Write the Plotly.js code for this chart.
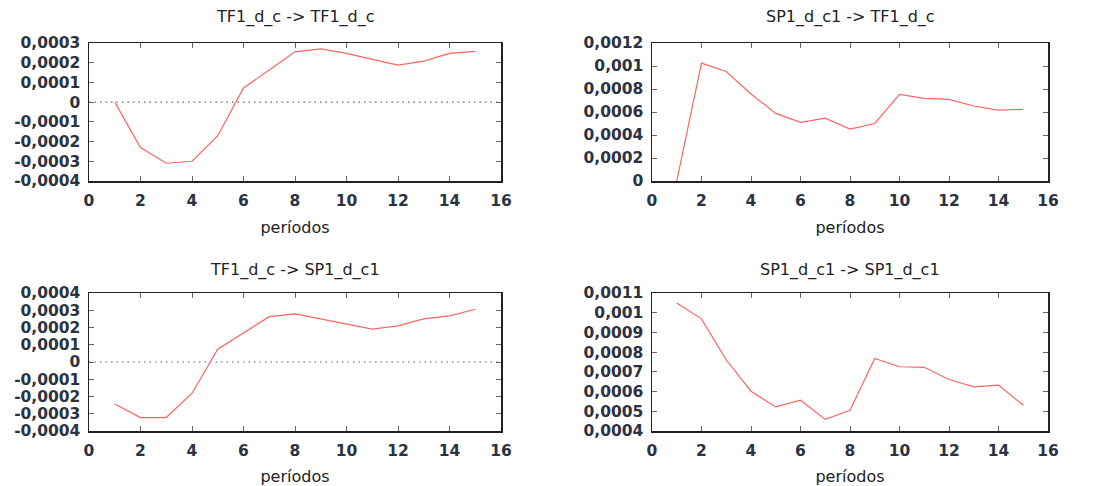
<!DOCTYPE html>
<html>
<head>
<meta charset="utf-8">
<script src="https://cdn.plot.ly/plotly-3.0.1.min.js"></script>
<style>html,body{margin:0;padding:0;background:#fff;}#chart{width:1103px;height:486px;}</style>
</head>
<body>
<div id="chart"></div>
<script>
// Periods
const periods = [1,2,3,4,5,6,7,8,9,10,11,12,13,14,15];

// Impulse responses
const tf_to_tf = [0, -0.00023, -0.00031, -0.00030, -0.00017, 0.000072, 0.000163, 0.000255, 0.00027, 0.000247, 0.000217, 0.000188, 0.000208, 0.000247, 0.000258];
const sp_to_tf = [0, 0.001025, 0.000952, 0.000757, 0.000588, 0.00051, 0.000547, 0.000451, 0.0005, 0.000754, 0.000719, 0.00071, 0.000652, 0.000617, 0.000623];
const tf_to_sp = [-0.000244, -0.000322, -0.000322, -0.000181, 0.000074, 0.000166, 0.000263, 0.000279, 0.00025, 0.000224, 0.000191, 0.000209, 0.00025, 0.000267, 0.000306];
const sp_to_sp = [0.001049, 0.000969, 0.00076, 0.000602, 0.000522, 0.000556, 0.000459, 0.000505, 0.000768, 0.000726, 0.000723, 0.000661, 0.000624, 0.000633, 0.000531];

const panelTitles = ["TF1_d_c -> TF1_d_c", "SP1_d_c1 -> TF1_d_c", "TF1_d_c -> SP1_d_c1", "SP1_d_c1 -> SP1_d_c1"];
const xTitle = "períodos";

// Tick labels
const xTickVals = [0,2,4,6,8,10,12,14,16];
const xTickText = ["0","2","4","6","8","10","12","14","16"];
const y1TickVals = [-0.0004,-0.0003,-0.0002,-0.0001,0,0.0001,0.0002,0.0003];
const y1TickText = ["-0,0004","-0,0003","-0,0002","-0,0001","0","0,0001","0,0002","0,0003"];
const y2TickVals = [0,0.0002,0.0004,0.0006,0.0008,0.001,0.0012];
const y2TickText = ["0","0,0002","0,0004","0,0006","0,0008","0,001","0,0012"];
const y3TickVals = [-0.0004,-0.0003,-0.0002,-0.0001,0,0.0001,0.0002,0.0003,0.0004];
const y3TickText = ["-0,0004","-0,0003","-0,0002","-0,0001","0","0,0001","0,0002","0,0003","0,0004"];
const y4TickVals = [0.0004,0.0005,0.0006,0.0007,0.0008,0.0009,0.001,0.0011];
const y4TickText = ["0,0004","0,0005","0,0006","0,0007","0,0008","0,0009","0,001","0,0011"];

const W = 1103, H = 486;
const lineColor = "#ff6464";
const tickFont = {family: "DejaVu Sans", size: 15.5, color: "#2b3242", weight: "bold"};
const titleFont = {family: "DejaVu Sans", size: 16, color: "#222"};

function px(x){ return x / W; }
function py(y){ return 1 - y / H; }

const series = [tf_to_tf, sp_to_tf, tf_to_sp, sp_to_sp];
const traces = series.map((s, i) => ({
  x: periods, y: s, type: "scatter", mode: "lines",
  line: {color: lineColor, width: 1.2},
  xaxis: i === 0 ? "x" : "x" + (i + 1),
  yaxis: i === 0 ? "y" : "y" + (i + 1),
  showlegend: false, hoverinfo: "x+y"
}));

const colX = [[px(89), px(501)], [px(652), px(1048)]];
const rowY = [[py(181), py(43)], [py(431), py(293)]];

function xa(dom, anchor){
  return {
    domain: dom, anchor: anchor, range: [0, 16],
    tickvals: xTickVals, ticktext: xTickText,
    ticks: "inside", ticklen: 5, tickcolor: "#666", tickwidth: 1,
    showline: true, linecolor: "#222", linewidth: 1.5, mirror: "allticks",
    showgrid: false, zeroline: false, tickfont: tickFont,
    ticklabelstandoff: 5,
    title: {text: xTitle, font: titleFont, standoff: 12}
  };
}
function ya(dom, anchor, range, tv, tt){
  return {
    domain: dom, anchor: anchor, range: range,
    tickvals: tv, ticktext: tt,
    ticks: "inside", ticklen: 5, tickcolor: "#666", tickwidth: 1,
    showline: true, linecolor: "#222", linewidth: 1.5, mirror: "allticks",
    showgrid: false, zeroline: false, tickfont: tickFont,
    ticklabelstandoff: 4
  };
}

const layout = {
  width: W, height: H,
  margin: {l: 0, r: 0, t: 0, b: 0},
  paper_bgcolor: "#fff", plot_bgcolor: "#fff",
  showlegend: false,
  xaxis:  xa(colX[0], "y"),
  yaxis:  ya(rowY[0], "x",  [-0.0004, 0.0003], y1TickVals, y1TickText),
  xaxis2: xa(colX[1], "y2"),
  yaxis2: ya(rowY[0], "x2", [0, 0.0012], y2TickVals, y2TickText),
  xaxis3: xa(colX[0], "y3"),
  yaxis3: ya(rowY[1], "x3", [-0.0004, 0.0004], y3TickVals, y3TickText),
  xaxis4: xa(colX[1], "y4"),
  yaxis4: ya(rowY[1], "x4", [0.0004, 0.0011], y4TickVals, y4TickText),
  shapes: [
    {type: "line", xref: "x domain", yref: "y", x0: 0, x1: 1, y0: 0, y1: 0, line: {color: "#666", width: 1.2, dash: "1.5px,4px"}, layer: "below"},
    {type: "line", xref: "x3 domain", yref: "y3", x0: 0, x1: 1, y0: 0, y1: 0, line: {color: "#666", width: 1.2, dash: "1.5px,4px"}, layer: "below"}
  ],
  annotations: [
    {text: panelTitles[0], x: (colX[0][0]+colX[0][1])/2, y: py(17), xref: "paper", yref: "paper", showarrow: false, font: titleFont, xanchor: "center", yanchor: "middle"},
    {text: panelTitles[1], x: (colX[1][0]+colX[1][1])/2, y: py(17), xref: "paper", yref: "paper", showarrow: false, font: titleFont, xanchor: "center", yanchor: "middle"},
    {text: panelTitles[2], x: (colX[0][0]+colX[0][1])/2, y: py(270), xref: "paper", yref: "paper", showarrow: false, font: titleFont, xanchor: "center", yanchor: "middle"},
    {text: panelTitles[3], x: (colX[1][0]+colX[1][1])/2, y: py(270), xref: "paper", yref: "paper", showarrow: false, font: titleFont, xanchor: "center", yanchor: "middle"}
  ]
};

Plotly.newPlot("chart", traces, layout, {staticPlot: true, displayModeBar: false});
</script>
</body>
</html>
